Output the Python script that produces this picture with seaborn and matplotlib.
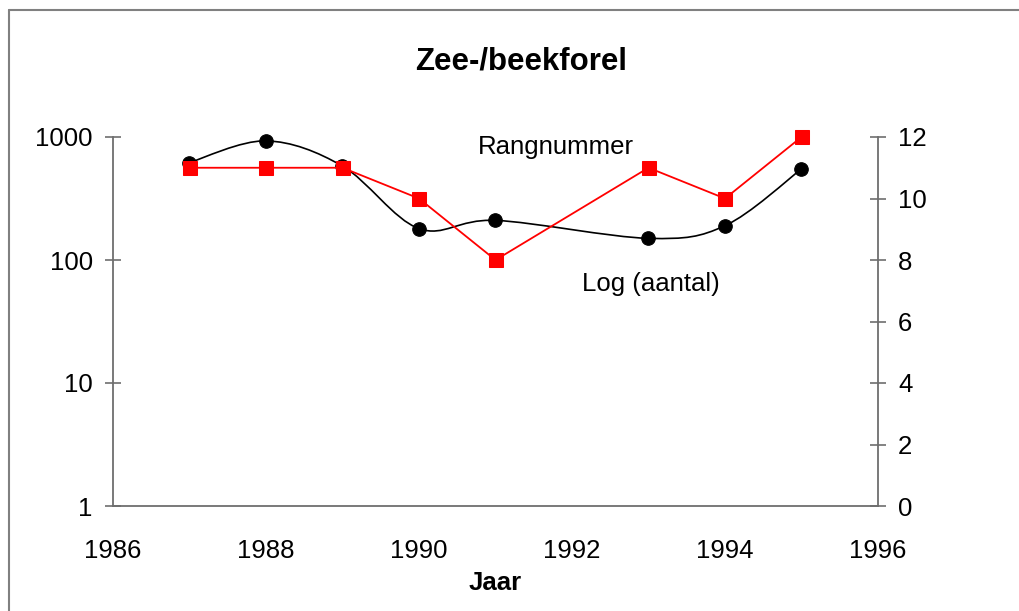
import numpy as np
import pandas as pd
import seaborn as sns
import matplotlib
matplotlib.use("Agg")
import matplotlib.pyplot as plt
from matplotlib.path import Path
from matplotlib.patches import PathPatch
from matplotlib.lines import Line2D

years = [1987, 1988, 1989, 1990, 1991, 1993, 1994, 1995]
aantal = [620, 930, 580, 180, 210, 150, 190, 550]
rangnummer = [11, 11, 11, 10, 8, 11, 10, 12]

left_ticks = [1, 10, 100, 1000]
right_ticks = [0, 2, 4, 6, 8, 10, 12]
x_ticks = [1986, 1988, 1990, 1992, 1994, 1996]

sns.set_style("white")
plt.rcParams["font.family"] = ["Liberation Sans", "DejaVu Sans"]
plt.rcParams["text.color"] = "black"
plt.rcParams["axes.labelcolor"] = "black"
fs = 18.5

df = pd.DataFrame({"Jaar": years, "aantal": aantal, "rang": rangnummer})

fig = plt.figure(figsize=(10.2, 6.11), dpi=100)
ax = fig.add_axes([113 / 1020, 105 / 611, 765 / 1020, 369 / 611])
ax2 = ax.twinx()

# smoothed line (Excel style) as bezier path through the points, in log space
px = np.array(years, dtype=float)
py = np.log10(aantal)
n = len(px)
verts = [(px[0], py[0])]
codes = [Path.MOVETO]
for i in range(n - 1):
    a = max(i - 1, 0)
    d = min(i + 2, n - 1)
    c1 = (px[i] + (px[i + 1] - px[a]) / 6, py[i] + (py[i + 1] - py[a]) / 6)
    c2 = (px[i + 1] - (px[d] - px[i]) / 6, py[i + 1] - (py[d] - py[i]) / 6)
    verts += [c1, c2, (px[i + 1], py[i + 1])]
    codes += [Path.CURVE4] * 3
verts = [(vx, 10 ** vy) for vx, vy in verts]
ax.add_patch(PathPatch(Path(verts, codes), fill=False, edgecolor="black", lw=1.2,
                       zorder=2, clip_on=False))
sns.scatterplot(data=df, x="Jaar", y="aantal", ax=ax, color="black", marker="o",
                s=95, edgecolor="black", zorder=3, legend=False, clip_on=False)

sns.lineplot(data=df, x="Jaar", y="rang", ax=ax2, color="red", marker="s",
             markersize=10, markeredgecolor="red", linewidth=1.3, legend=False,
             clip_on=False)

ax.set_yscale("log")
ax.set_ylim(1, 1000)
ax.set_xlim(1986, 1996)
ax2.set_ylim(0, 12)
ax.set_yticks(left_ticks)
ax.set_yticklabels([str(t) for t in left_ticks])
ax.yaxis.set_minor_locator(matplotlib.ticker.NullLocator())
ax2.set_yticks(right_ticks)
ax.set_xticks(x_ticks)

spine_col = "#6e6e6e"
for a in (ax, ax2):
    for s in a.spines.values():
        s.set_visible(False)
        s.set_color(spine_col)
        s.set_linewidth(1.3)
    a.grid(False)
ax.spines["left"].set_visible(True)
ax.spines["bottom"].set_visible(True)
ax2.spines["right"].set_visible(True)

ax.tick_params(axis="both", direction="inout", length=11, width=1.2, color=spine_col,
               labelsize=fs, labelcolor="black")
ax.tick_params(axis="y", pad=9)
ax.tick_params(axis="x", pad=18)
ax2.tick_params(axis="y", direction="inout", length=11, width=1.2, color=spine_col,
                labelsize=fs, labelcolor="black", pad=9)

ax.set_xlabel("Jaar", fontweight="bold", fontsize=fs, labelpad=6, color="black")
ax.set_ylabel("")
ax2.set_ylabel("")

ax2.text(1990.77, 11.68, "Rangnummer", va="center", ha="left", fontsize=fs, color="black")
ax2.text(1992.13, 7.22, "Log (aantal)", va="center", ha="left", fontsize=fs, color="black")

fig.text(521 / 1020, 1 - 62 / 611, "Zee-/beekforel", ha="center", va="center",
         fontsize=22.5, fontweight="bold", color="black")

# figure border (only top and left edge visible in the crop)
fig.add_artist(Line2D([9 / 1020, 1.0], [1 - 10 / 611, 1 - 10 / 611],
                      transform=fig.transFigure, color="#808080", lw=1.5))
fig.add_artist(Line2D([9 / 1020, 9 / 1020], [0.0, 1 - 10 / 611],
                      transform=fig.transFigure, color="#808080", lw=1.5))

fig.savefig("out.png", dpi=100)
